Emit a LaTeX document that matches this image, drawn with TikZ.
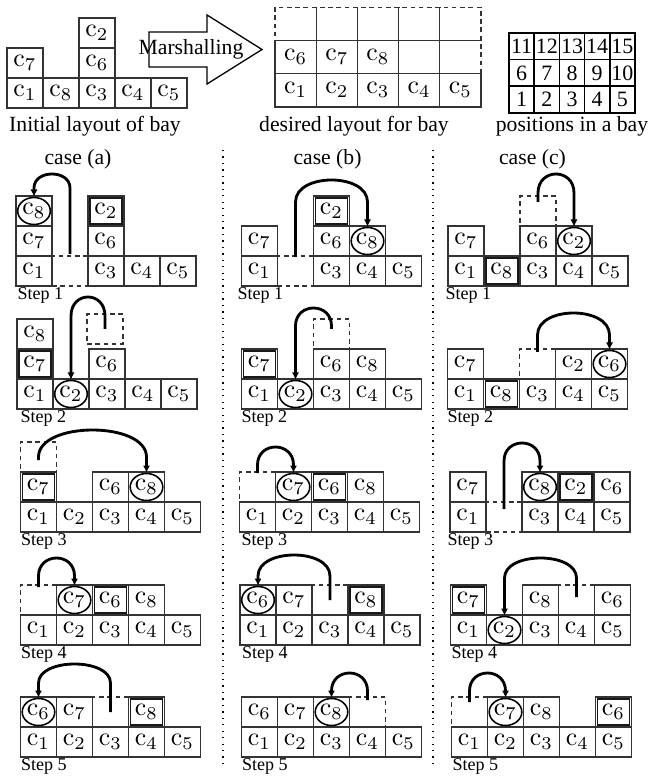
\documentclass[tikz,border=0pt]{standalone}
\usepackage[no-math]{fontspec}
\setmainfont{Liberation Serif}
\usetikzlibrary{arrows.meta,calc,shapes.geometric}
\newcommand\pxu{0.3875pt}
\newcommand\cc[1]{$\mathrm{c}_{#1}$}
\colorlet{boxline}{black!80}
\tikzset{
  cellbox/.style={draw=boxline, line width=0.45pt, minimum width=36*\pxu, minimum height=30*\pxu, inner sep=0pt, font=\fontsize{10}{12}\selectfont},
  dcell/.style={cellbox, dash pattern=on 1.8pt off 1.4pt},
  bigcell/.style={cellbox, minimum width=41.2*\pxu, minimum height=33.3*\pxu},
  bigdash/.style={bigcell, dash pattern=on 1.8pt off 1.4pt},
  gridbox/.style={draw, line width=0.65pt, minimum width=25.2*\pxu, minimum height=26.7*\pxu, inner sep=0pt, font=\fontsize{8.5}{10}\selectfont},
  tgt/.style={draw, ellipse, line width=0.6pt, minimum width=32*\pxu, minimum height=27*\pxu, inner sep=0pt, font=\fontsize{10}{12}\selectfont},
  mvarr/.style={line width=1.1pt, -{Latex[length=2.8pt,width=2.8pt]}},
  captext/.style={font=\fontsize{8.4}{10}\selectfont, inner sep=0pt},
  steplbl/.style={font=\fontsize{7}{8}\selectfont, anchor=west, inner sep=0pt},
  sepline/.style={line width=0.5pt, dotted},
  bigarrow/.style={draw, line width=0.5pt},
  innerbox/.style={draw=black!90, line width=0.65pt}
}
% #1 options, #2 name, #3 X0, #4 B, #5 col, #6 row, #7 text
\newcommand\mkcell[7][]{\node[cellbox,#1] (#2) at ({#3+36*#5-18},{#4-30*#6+15}) {#7};}
\newcommand\cellP[6]{\mkcell{#1}{#2}{#3}{#4}{#5}{\cc{#6}}}
\newcommand\cellE[5]{\mkcell[dcell]{#1}{#2}{#3}{#4}{#5}{}}
\newcommand\cellT[6]{\mkcell{#1}{#2}{#3}{#4}{#5}{}\node[tgt] (#1e) at (#1.center) {\cc{#6}};}
\newcommand\cellD[6]{\mkcell{#1}{#2}{#3}{#4}{#5}{\cc{#6}}\draw[innerbox] ($(#1.south west)+(2.5,-2.5)$) rectangle ($(#1.north east)+(-2.5,2.5)$);}
% #1 src node, #2 start dy, #3 target node, #4 peak y, #5 shoulder y
\newcommand\mvarrow[5]{%
  \coordinate (mvS) at ($(#1.center)+(0,#2)$);
  \coordinate (mvH) at (0,#5);
  \coordinate (mvK) at (0,{#5-4/3*(#5-#4)});
  \draw[mvarr] (mvS) -- (mvS |- mvH) .. controls (mvS |- mvK) and (#3.north |- mvK) .. (#3.north |- mvH) -- (#3.north);
}
\begin{document}
\begin{tikzpicture}[x=0.3875pt,y=-0.3875pt]
\useasboundingbox (0,0) rectangle (650,776);
% ---------- initial layout
\cellP{ic1}{7}{108}{1}{1}{1}
\cellP{ic7}{7}{108}{1}{2}{7}
\cellP{ic8}{7}{108}{2}{1}{8}
\cellP{ic3}{7}{108}{3}{1}{3}
\cellP{ic6}{7}{108}{3}{2}{6}
\cellP{ic2}{7}{108}{3}{3}{2}
\cellP{ic4}{7}{108}{4}{1}{4}
\cellP{ic5}{7}{108}{5}{1}{5}
\node[captext] (icap) at (95,126) {Initial layout of bay};
% ---------- marshalling arrow
\draw[bigarrow] (149,32) -- (207,32) -- (207,15) -- (262,49.5) -- (207,84) -- (207,67) -- (149,67) -- cycle;
\node[captext] (marsh) at (191,49) {Marshalling};
% ---------- desired layout
\foreach \c/\t in {1/1,2/2,3/3,4/4,5/5}{
  \node[bigcell] (d1\c) at ({275+41.2*\c-20.6},{107-16.65}) {\cc{\t}};}
\foreach \c/\t in {1/6,2/7,3/8}{
  \node[bigcell] (d2\c) at ({275+41.2*\c-20.6},{107-33.3-16.65}) {\cc{\t}};}
\foreach \c in {4,5}{
  \node[bigdash] (d2\c) at ({275+41.2*\c-20.6},{107-33.3-16.65}) {};}
\foreach \c in {1,...,5}{
  \node[bigdash] (d3\c) at ({275+41.2*\c-20.6},{107-66.6-16.65}) {};}
\node[captext] (dcap) at (354,126) {desired layout for bay};
% ---------- positions
\foreach \r in {1,2,3}{
  \foreach \c in {1,...,5}{
    \pgfmathtruncatemacro\n{(\r-1)*5+\c}
    \node[gridbox] (p\n) at ({509+25.2*\c-12.6},{113-26.7*\r+13.35}) {\n};}}
\node[captext] (pcap) at (572,126) {positions in a bay};
% ---------- separators and case titles
\coordinate (s1t) at (223,150); \coordinate (s1b) at (223,768);
\coordinate (s2t) at (433,150); \coordinate (s2b) at (433,768);
\draw[sepline] (s1t) -- (s1b);
\draw[sepline] (s2t) -- (s2b);
\node[captext] (casea) at (78,159) {case (a)};
\node[captext] (caseb) at (327.5,159) {case (b)};
\node[captext] (casec) at (532.5,159) {case (c)};
% ================= case (a)
% step 1
\cellP{a1c1}{16}{286}{1}{1}{1}
\cellP{a1c7}{16}{286}{1}{2}{7}
\cellT{a1t}{16}{286}{1}{3}{8}
\cellE{a1s}{16}{286}{2}{1}
\cellP{a1c3}{16}{286}{3}{1}{3}
\cellP{a1c6}{16}{286}{3}{2}{6}
\cellD{a1c2}{16}{286}{3}{3}{2}
\cellP{a1c4}{16}{286}{4}{1}{4}
\cellP{a1c5}{16}{286}{5}{1}{5}
\node[steplbl] (a1l) at (17,295) {Step 1};
% step 2
\cellP{a2c1}{17}{409}{1}{1}{1}
\cellD{a2c7}{17}{409}{1}{2}{7}
\cellP{a2c8}{17}{409}{1}{3}{8}
\cellT{a2t}{17}{409}{2}{1}{2}
\cellP{a2c3}{17}{409}{3}{1}{3}
\cellP{a2c6}{17}{409}{3}{2}{6}
\node[dcell] (a2s) at (105,329) {};
\cellP{a2c4}{17}{409}{4}{1}{4}
\cellP{a2c5}{17}{409}{5}{1}{5}
\node[steplbl] (a2l) at (20,418) {Step 2};
% step 3
\cellP{a3c1}{20.5}{532}{1}{1}{1}
\cellD{a3c7}{20.5}{532}{1}{2}{7}
\cellE{a3s}{20.5}{532}{1}{3}
\cellP{a3c2}{20.5}{532}{2}{1}{2}
\cellP{a3c3}{20.5}{532}{3}{1}{3}
\cellP{a3c6}{20.5}{532}{3}{2}{6}
\cellP{a3c4}{20.5}{532}{4}{1}{4}
\cellT{a3t}{20.5}{532}{4}{2}{8}
\cellP{a3c5}{20.5}{532}{5}{1}{5}
\node[steplbl] (a3l) at (20.5,541) {Step 3};
% step 4
\cellP{a4c1}{20.5}{645}{1}{1}{1}
\cellE{a4s}{20.5}{645}{1}{2}
\cellP{a4c2}{20.5}{645}{2}{1}{2}
\cellT{a4t}{20.5}{645}{2}{2}{7}
\cellP{a4c3}{20.5}{645}{3}{1}{3}
\cellD{a4c6}{20.5}{645}{3}{2}{6}
\cellP{a4c4}{20.5}{645}{4}{1}{4}
\cellP{a4c8}{20.5}{645}{4}{2}{8}
\cellP{a4c5}{20.5}{645}{5}{1}{5}
\node[steplbl] (a4l) at (20.5,654) {Step 4};
% step 5
\cellP{a5c1}{20.5}{757}{1}{1}{1}
\cellT{a5t}{20.5}{757}{1}{2}{6}
\cellP{a5c2}{20.5}{757}{2}{1}{2}
\cellP{a5c7}{20.5}{757}{2}{2}{7}
\cellP{a5c3}{20.5}{757}{3}{1}{3}
\cellE{a5s}{20.5}{757}{3}{2}
\cellP{a5c4}{20.5}{757}{4}{1}{4}
\cellD{a5c8}{20.5}{757}{4}{2}{8}
\cellP{a5c5}{20.5}{757}{5}{1}{5}
\node[steplbl] (a5l) at (20.5,766) {Step 5};
% ================= case (b)
% step 1
\cellP{b1c1}{241.5}{286}{1}{1}{1}
\cellP{b1c7}{241.5}{286}{1}{2}{7}
\cellE{b1s}{241.5}{286}{2}{1}
\cellP{b1c3}{241.5}{286}{3}{1}{3}
\cellP{b1c6}{241.5}{286}{3}{2}{6}
\cellD{b1c2}{241.5}{286}{3}{3}{2}
\cellP{b1c4}{241.5}{286}{4}{1}{4}
\cellT{b1t}{241.5}{286}{4}{2}{8}
\cellP{b1c5}{241.5}{286}{5}{1}{5}
\node[steplbl] (b1l) at (237,295) {Step 1};
% step 2
\cellP{b2c1}{241.5}{409}{1}{1}{1}
\cellD{b2c7}{241.5}{409}{1}{2}{7}
\cellT{b2t}{241.5}{409}{2}{1}{2}
\cellP{b2c3}{241.5}{409}{3}{1}{3}
\cellP{b2c6}{241.5}{409}{3}{2}{6}
\cellE{b2s}{241.5}{409}{3}{3}
\cellP{b2c4}{241.5}{409}{4}{1}{4}
\cellP{b2c8}{241.5}{409}{4}{2}{8}
\cellP{b2c5}{241.5}{409}{5}{1}{5}
\node[steplbl] (b2l) at (241,418) {Step 2};
% step 3
\cellP{b3c1}{239.5}{532}{1}{1}{1}
\cellE{b3s}{239.5}{532}{1}{2}
\cellP{b3c2}{239.5}{532}{2}{1}{2}
\cellT{b3t}{239.5}{532}{2}{2}{7}
\cellP{b3c3}{239.5}{532}{3}{1}{3}
\cellD{b3c6}{239.5}{532}{3}{2}{6}
\cellP{b3c4}{239.5}{532}{4}{1}{4}
\cellP{b3c8}{239.5}{532}{4}{2}{8}
\cellP{b3c5}{239.5}{532}{5}{1}{5}
\node[steplbl] (b3l) at (241,541) {Step 3};
% step 4
\cellP{b4c1}{240}{645}{1}{1}{1}
\cellT{b4t}{240}{645}{1}{2}{6}
\cellP{b4c2}{240}{645}{2}{1}{2}
\cellP{b4c7}{240}{645}{2}{2}{7}
\cellP{b4c3}{240}{645}{3}{1}{3}
\cellE{b4s}{240}{645}{3}{2}
\cellP{b4c4}{240}{645}{4}{1}{4}
\cellD{b4c8}{240}{645}{4}{2}{8}
\cellP{b4c5}{240}{645}{5}{1}{5}
\node[steplbl] (b4l) at (241.5,654) {Step 4};
% step 5
\cellP{b5c1}{241.5}{757}{1}{1}{1}
\cellP{b5c6}{241.5}{757}{1}{2}{6}
\cellP{b5c2}{241.5}{757}{2}{1}{2}
\cellP{b5c7}{241.5}{757}{2}{2}{7}
\cellP{b5c3}{241.5}{757}{3}{1}{3}
\cellT{b5t}{241.5}{757}{3}{2}{8}
\cellP{b5c4}{241.5}{757}{4}{1}{4}
\cellE{b5s}{241.5}{757}{4}{2}
\cellP{b5c5}{241.5}{757}{5}{1}{5}
\node[steplbl] (b5l) at (241.5,766) {Step 5};
% ================= case (c)
% step 1
\cellP{c1c1}{448}{286}{1}{1}{1}
\cellP{c1c7}{448}{286}{1}{2}{7}
\cellD{c1c8}{448}{286}{2}{1}{8}
\cellP{c1c3}{448}{286}{3}{1}{3}
\cellP{c1c6}{448}{286}{3}{2}{6}
\cellE{c1s}{448}{286}{3}{3}
\cellP{c1c4}{448}{286}{4}{1}{4}
\cellT{c1t}{448}{286}{4}{2}{2}
\cellP{c1c5}{448}{286}{5}{1}{5}
\node[steplbl] (c1l) at (445,295) {Step 1};
% step 2
\cellP{c2c1}{447.5}{409}{1}{1}{1}
\cellP{c2c7}{447.5}{409}{1}{2}{7}
\cellD{c2c8}{447.5}{409}{2}{1}{8}
\cellP{c2c3}{447.5}{409}{3}{1}{3}
\cellE{c2s}{447.5}{409}{3}{2}
\cellP{c2c4}{447.5}{409}{4}{1}{4}
\cellP{c2c2}{447.5}{409}{4}{2}{2}
\cellP{c2c5}{447.5}{409}{5}{1}{5}
\cellT{c2t}{447.5}{409}{5}{2}{6}
\node[steplbl] (c2l) at (447,418) {Step 2};
% step 3
\cellP{c3c1}{450}{532}{1}{1}{1}
\cellP{c3c7}{450}{532}{1}{2}{7}
\cellE{c3s}{450}{532}{2}{1}
\cellP{c3c3}{450}{532}{3}{1}{3}
\cellT{c3t}{450}{532}{3}{2}{8}
\cellP{c3c4}{450}{532}{4}{1}{4}
\cellD{c3c2}{450}{532}{4}{2}{2}
\cellP{c3c5}{450}{532}{5}{1}{5}
\cellP{c3c6}{450}{532}{5}{2}{6}
\node[steplbl] (c3l) at (447,541) {Step 3};
% step 4
\cellP{c4c1}{450.5}{645}{1}{1}{1}
\cellD{c4c7}{450.5}{645}{1}{2}{7}
\cellT{c4t}{450.5}{645}{2}{1}{2}
\cellP{c4c3}{450.5}{645}{3}{1}{3}
\cellP{c4c8}{450.5}{645}{3}{2}{8}
\cellP{c4c4}{450.5}{645}{4}{1}{4}
\cellE{c4s}{450.5}{645}{4}{2}
\cellP{c4c5}{450.5}{645}{5}{1}{5}
\cellP{c4c6}{450.5}{645}{5}{2}{6}
\node[steplbl] (c4l) at (451,654) {Step 4};
% step 5
\cellP{c5c1}{451.5}{757}{1}{1}{1}
\cellE{c5s}{451.5}{757}{1}{2}
\cellP{c5c2}{451.5}{757}{2}{1}{2}
\cellT{c5t}{451.5}{757}{2}{2}{7}
\cellP{c5c3}{451.5}{757}{3}{1}{3}
\cellP{c5c8}{451.5}{757}{3}{2}{8}
\cellP{c5c4}{451.5}{757}{4}{1}{4}
\cellP{c5c5}{451.5}{757}{5}{1}{5}
\cellD{c5c6}{451.5}{757}{5}{2}{6}
\node[steplbl] (c5l) at (452,766) {Step 5};
% ================= moves
\mvarrow{a1s}{-17}{a1te}{174}{188}
\mvarrow{a2s}{0}{a2te}{297}{316}
\mvarrow{a3s}{3}{a3te}{430}{457}
\mvarrow{a4s}{-13}{a4te}{558}{576}
\mvarrow{a5s}{0}{a5te}{664}{683}
\mvarrow{b1s}{-14}{b1te}{180}{202}
\mvarrow{b2s}{-5}{b2te}{308}{326}
\mvarrow{b3s}{-14}{b3te}{447}{465}
\mvarrow{b4s}{0}{b4te}{555}{576}
\mvarrow{b5s}{-12}{b5te}{673}{691}
\mvarrow{c1s}{-9}{c1te}{174}{193}
\mvarrow{c2s}{-12}{c2te}{313}{335}
\mvarrow{c3s}{-8}{c3te}{443}{461}
\mvarrow{c4s}{-3}{c4te}{558}{578}
\mvarrow{c5s}{-10}{c5te}{673}{691}
\end{tikzpicture}
\end{document}
